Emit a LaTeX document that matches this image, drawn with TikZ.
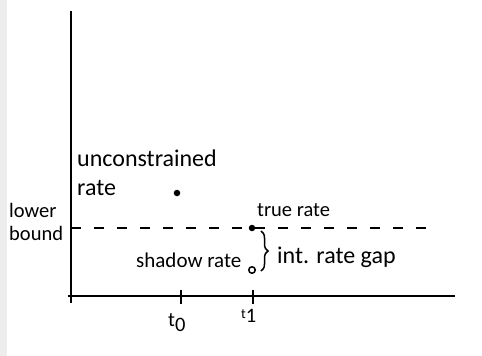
\documentclass[tikz,border=0pt]{standalone}
\usepackage{fontspec}
\setmainfont{Carlito}
\usetikzlibrary{decorations.pathreplacing}
\begin{document}
\begin{tikzpicture}[x=1pt,y=-1pt,
  lbl/.style={inner sep=0pt,anchor=base west,font=\fontsize{20.5}{24}\selectfont},
  midlbl/.style={inner sep=0pt,anchor=base west,font=\fontsize{21}{25}\selectfont},
  biglbl/.style={inner sep=0pt,anchor=base west,font=\fontsize{24}{28}\selectfont},
  axisline/.style={line width=2.2pt},
  dot/.style={circle,fill=black,inner sep=0pt,minimum size=6.5pt},
  odot/.style={circle,draw=black,line width=1.5pt,fill=white,inner sep=0pt,minimum size=6.5pt}]
\useasboundingbox (0,0) rectangle (482,356);
\fill[black!7] (0,0) rectangle (7,356);
% axes
\coordinate (ytop) at (71,11);
\coordinate (ybot) at (71,303);
\coordinate (xl) at (68,296);
\coordinate (xr) at (455,296);
\draw[axisline] (ytop) -- (ybot);
\draw[axisline] (xl) -- (xr);
% ticks
\coordinate (t0a) at (181,290); \coordinate (t0b) at (181,304);
\coordinate (t1a) at (253,290); \coordinate (t1b) at (253,304);
\draw[line width=1.8pt] (t0a) -- (t0b);
\draw[line width=1.8pt] (t1a) -- (t1b);
\node[lbl] (t0) at (168,326) {t\raisebox{-5pt}{0}};
\node[lbl] (t1) at (241,322) {\raisebox{4pt}{\fontsize{14}{14}\selectfont t}1};
% lower bound dashed line
\coordinate (lbl1) at (71,228);
\coordinate (lbr) at (432,228);
\draw[line width=1.8pt,dash pattern=on 10pt off 13pt] (lbl1) -- (lbr);
% points
\node[dot] (unc) at (177,193) {};
\node[dot] (true) at (252,228) {};
\node[odot] (shadow) at (252,270) {};
% labels
\node[biglbl] (uncl1) at (77,166) {unconstrained};
\node[biglbl] (uncl2) at (77,195) {rate};
\node[lbl] (lower) at (9,217) {lower};
\node[lbl] (bound) at (9,240) {bound};
\node[lbl] (truel) at (257,216) {true rate};
\node[midlbl] (shadowl) at (136,267) {shadow rate};
\node[biglbl] (gapl) at (277,263) {int. rate gap};
% brace
\coordinate (bt) at (261,231);
\coordinate (bb) at (261,271);
\draw[line width=1.5pt,decorate,decoration={brace,amplitude=7pt}] (bt) -- (bb);
\end{tikzpicture}
\end{document}
